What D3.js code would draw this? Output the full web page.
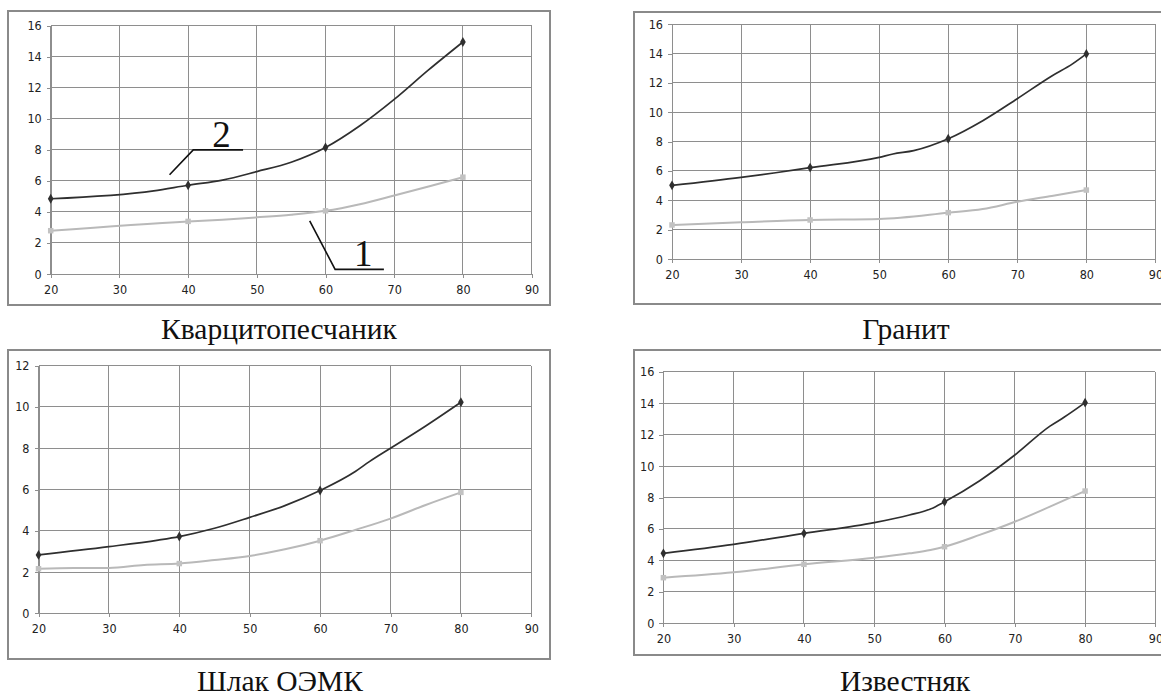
<!DOCTYPE html>
<html>
<head>
<meta charset="utf-8">
<script src="https://cdn.jsdelivr.net/npm/d3@7"></script>
<style>
  html, body { margin: 0; padding: 0; background: #fff; }
  svg { display: block; }
  .tick text { font-family: "Liberation Sans Narrow", "DejaVu Sans Condensed", "Liberation Sans", sans-serif; font-size: 12.5px; fill: #222; }
  .caption { font-family: "Liberation Serif", "Times New Roman", serif; font-size: 29.5px; fill: #111; }
  .anno { font-family: "Liberation Serif", "Times New Roman", serif; font-size: 37px; fill: #111; }
</style>
</head>
<body>
<svg id="chart" width="1161" height="695"></svg>
<script>
// ---------- DATA ----------
const xTicks = [20, 30, 40, 50, 60, 70, 80, 90];
const markerX = [20, 40, 60, 80];

const titles = ["Кварцитопесчаник", "Гранит", "Шлак ОЭМК", "Известняк"];
const yMaxes = [16, 16, 12, 16];

// Кварцитопесчаник
const kvX2 = [20, 35, 40, 45, 50, 55, 60, 65, 70, 75, 80];
const kvY2 = [4.85, 5.36, 5.72, 6.05, 6.6, 7.2, 8.15, 9.55, 11.25, 13.15, 14.95];
const kvX1 = [20, 40, 45, 50, 55, 60, 65, 70, 75, 80];
const kvY1 = [2.79, 3.39, 3.5, 3.65, 3.82, 4.07, 4.5, 5.06, 5.64, 6.24];

// Гранит
const grX2 = [20, 30, 35, 40, 50, 52, 55, 60, 65, 70, 75, 78, 80];
const grY2 = [5.02, 5.57, 5.88, 6.23, 6.93, 7.16, 7.39, 8.2, 9.43, 10.93, 12.48, 13.3, 13.98];
const grX1 = [20, 30, 40, 50, 60, 65, 70, 75, 80];
const grY1 = [2.32, 2.5, 2.66, 2.73, 3.16, 3.41, 3.9, 4.3, 4.7];

// Шлак ОЭМК
const shX2 = [20, 30, 37, 40, 45, 50, 55, 60, 65, 67, 70, 75, 80];
const shY2 = [2.83, 3.23, 3.55, 3.72, 4.12, 4.65, 5.22, 5.95, 6.87, 7.35, 8.0, 9.08, 10.23];
const shX1 = [20, 25, 30, 35, 40, 45, 50, 55, 60, 65, 70, 75, 80];
const shY1 = [2.16, 2.2, 2.2, 2.34, 2.41, 2.58, 2.78, 3.1, 3.52, 4.04, 4.59, 5.25, 5.86];

// Известняк
const izX2 = [20, 30, 40, 50, 55, 58, 60, 65, 70, 75, 77, 80];
const izY2 = [4.45, 5.02, 5.72, 6.4, 6.89, 7.27, 7.73, 9.07, 10.7, 12.54, 13.1, 14.03];
const izX1 = [20, 30, 40, 50, 55, 58, 60, 65, 70, 75, 80];
const izY1 = [2.9, 3.24, 3.75, 4.17, 4.45, 4.66, 4.87, 5.62, 6.46, 7.42, 8.41];

const seriesX2 = [kvX2, grX2, shX2, izX2];
const seriesY2 = [kvY2, grY2, shY2, izY2];
const seriesX1 = [kvX1, grX1, shX1, izX1];
const seriesY1 = [kvY1, grY1, shY1, izY1];

// ---------- LAYOUT ----------
const layout = [
  { frame: [8, 11, 550, 305],   plot: [50.7, 531.6, 25.7, 274],   cap: [279, 339.3] },
  { frame: [634, 12, 1175, 304], plot: [672, 1155.4, 24.3, 259],  cap: [906, 339.3] },
  { frame: [8, 350, 550, 659],  plot: [38.5, 531.3, 365.7, 613.3], cap: [280, 691] },
  { frame: [634, 350, 1175, 655], plot: [663.4, 1155.4, 371.7, 623.3], cap: [905, 691] }
];

const gridColor = "#8e8e8e";
const darkColor = "#2f2f2f";
const lightColor = "#b9b9b9";

const svg = d3.select("#chart");

layout.forEach((L, i) => {
  const g = svg.append("g");
  const [fx0, fy0, fx1, fy1] = L.frame;
  g.append("rect")
    .attr("x", fx0).attr("y", fy0)
    .attr("width", fx1 - fx0).attr("height", fy1 - fy0)
    .attr("fill", "#fff").attr("stroke", "#8a8a8a").attr("stroke-width", 2);

  const [pl, pr, pt, pb] = L.plot;
  const x = d3.scaleLinear().domain([20, 90]).range([pl, pr]);
  const y = d3.scaleLinear().domain([0, yMaxes[i]]).range([pb, pt]);
  const yTicks = d3.range(0, yMaxes[i] + 0.001, 2);

  // grid
  g.append("g").selectAll("line.v").data(xTicks).join("line")
    .attr("x1", d => x(d)).attr("x2", d => x(d))
    .attr("y1", pt).attr("y2", pb)
    .attr("stroke", gridColor).attr("stroke-width", 1).attr("shape-rendering", "crispEdges");
  g.append("g").selectAll("line.h").data(yTicks).join("line")
    .attr("x1", pl).attr("x2", pr)
    .attr("y1", d => y(d)).attr("y2", d => y(d))
    .attr("stroke", gridColor).attr("stroke-width", 1).attr("shape-rendering", "crispEdges");

  // axes
  const xAxis = d3.axisBottom(x).tickValues(xTicks).tickSize(4).tickPadding(7).tickFormat(d3.format("d"));
  const yAxis = d3.axisLeft(y).tickValues(yTicks).tickSize(4).tickPadding(5).tickFormat(d3.format("d"));
  const gx = g.append("g").attr("transform", `translate(0,${pb})`).call(xAxis);
  const gy = g.append("g").attr("transform", `translate(${pl},0)`).call(yAxis);
  [gx, gy].forEach(a => {
    a.select(".domain").attr("stroke", gridColor).attr("shape-rendering", "crispEdges");
    a.selectAll(".tick line").attr("stroke", gridColor).attr("shape-rendering", "crispEdges");
    a.attr("font-family", null).attr("font-size", null);
  });

  const line = d3.line().x(d => x(d[0])).y(d => y(d[1])).curve(d3.curveMonotoneX);

  const d1 = seriesX1[i].map((v, k) => [v, seriesY1[i][k]]);
  const d2 = seriesX2[i].map((v, k) => [v, seriesY2[i][k]]);

  g.append("path").datum(d1).attr("d", line)
    .attr("fill", "none").attr("stroke", lightColor).attr("stroke-width", 2);
  g.append("path").datum(d2).attr("d", line)
    .attr("fill", "none").attr("stroke", darkColor).attr("stroke-width", 1.7);

  // markers
  const sq = d3.symbol().type(d3.symbolSquare).size(30);
  const dia = d3.symbol().type(d3.symbolDiamond).size(28);
  g.append("g").selectAll("path").data(d1.filter(d => markerX.includes(d[0]))).join("path")
    .attr("d", sq).attr("transform", d => `translate(${x(d[0])},${y(d[1])})`)
    .attr("fill", "#c2c2c2");
  g.append("g").selectAll("path").data(d2.filter(d => markerX.includes(d[0]))).join("path")
    .attr("d", dia).attr("transform", d => `translate(${x(d[0])},${y(d[1])})`)
    .attr("fill", darkColor);

  // caption
  svg.append("text").attr("class", "caption")
    .attr("x", L.cap[0]).attr("y", L.cap[1]).attr("text-anchor", "middle")
    .text(titles[i]);

  // annotations on the first panel
  if (i === 0) {
    const ann = svg.append("g");
    ann.append("polyline")
      .attr("points", [[x(37.3), y(6.4)], [x(40.75), y(8.0)], [x(48), y(8.0)]].map(p => p.join(",")).join(" "))
      .attr("fill", "none").attr("stroke", "#111").attr("stroke-width", 1.6);
    ann.append("text").attr("class", "anno").attr("x", x(43.5)).attr("y", y(8.2)).text("2");
    ann.append("polyline")
      .attr("points", [[x(57.7), y(3.42)], [x(61.4), y(0.3)], [x(68.5), y(0.3)]].map(p => p.join(",")).join(" "))
      .attr("fill", "none").attr("stroke", "#111").attr("stroke-width", 1.6);
    ann.append("text").attr("class", "anno").attr("x", x(65.5)).attr("y", y(0.5))
      .attr("text-anchor", "middle").text("1");
  }
});
</script>
</body>
</html>
